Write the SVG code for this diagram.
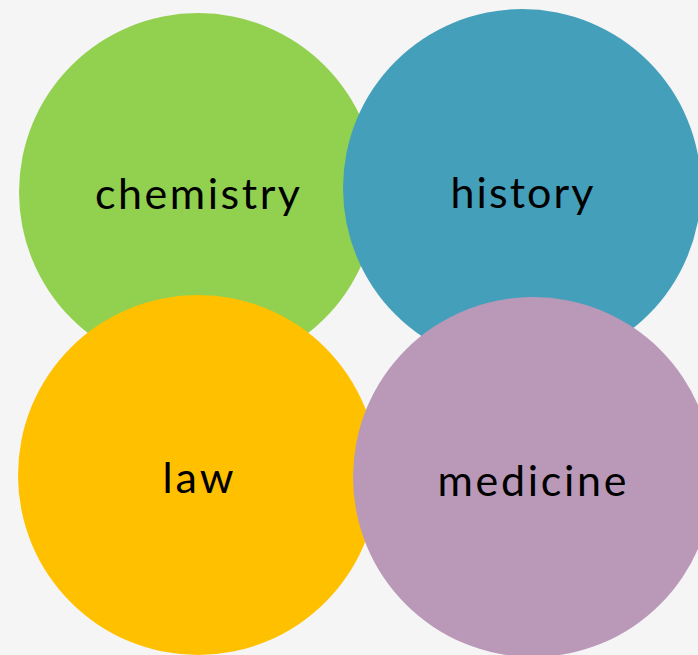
<svg xmlns="http://www.w3.org/2000/svg" width="698" height="655" viewBox="0 0 698 655">
<style>
.lbl{font-family:Lato,"Open Sans","Liberation Sans",sans-serif;font-size:43px;fill:#000;text-anchor:middle}
</style>
<rect width="698" height="655" fill="#F5F5F5"/>
<g id="chemistry"><circle cx="198" cy="192" r="179" fill="#92D050"/><text class="lbl" x="197.5" y="209" textLength="205" lengthAdjust="spacing">chemistry</text></g>
<g id="history"><circle cx="522" cy="188" r="179" fill="#449FBA"/><text class="lbl" x="522" y="208" textLength="143" lengthAdjust="spacing">history</text></g>
<g id="law"><circle cx="198" cy="475" r="180" fill="#FFC000"/><text class="lbl" x="198" y="493" textLength="71" lengthAdjust="spacing">law</text></g>
<g id="medicine"><circle cx="533" cy="477" r="180" fill="#BA99B8"/><text class="lbl" x="532" y="496" textLength="189" lengthAdjust="spacing">medicine</text></g>
<g id="connectors"/>
</svg>
